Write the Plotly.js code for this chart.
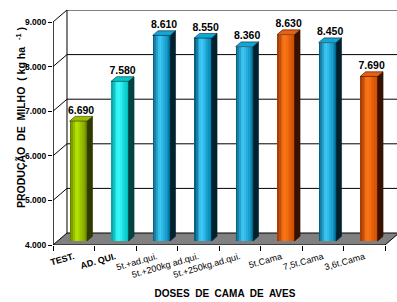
<!DOCTYPE html>
<html>
<head>
<meta charset="utf-8">
<script src="https://cdn.plot.ly/plotly-3.0.1.min.js"></script>
<style>html,body{margin:0;padding:0;background:#fff;}#chart{width:397px;height:302px;}</style>
</head>
<body>
<div id="chart"></div>
<script>
// ---- data ----
const categories = ['TEST.', 'AD. QUI.', '5t.+ad.qui.', '5t.+200kg ad.qui.', '5t.+250kg.ad.qui.', '5t.Cama', '7,5t.Cama', '3,6t.Cama'];
const producao = [6690, 7580, 8610, 8550, 8360, 8630, 8450, 7690];
const yTicks = [4000, 5000, 6000, 7000, 8000, 9000];
const xTitle = 'DOSES  DE  CAMA  DE  AVES';
const yTitle = 'PRODUÇÃO  DE  MILHO  ( kg ha <sup>  -1</sup> )';

// ---- style ----
const boldLabels = [true, true, false, false, false, false, false, false];
const barFamily = ['olive', 'cyan', 'blue', 'blue', 'blue', 'orange', 'blue', 'orange'];
const palettes = {
  olive:  {edge: '#587000', hl: '#bcec00', right: '#6f8a00', top: '#98bc00', side: '#2e3a00', line: '#2a3300'},
  cyan:   {edge: '#009a9a', hl: '#3affff', right: '#00bcbc', top: '#00c8c8', side: '#004444', line: '#003333'},
  blue:   {edge: '#004f70', hl: '#40d0ff', right: '#007aa8', top: '#10a8d8', side: '#00222f', line: '#00202c'},
  orange: {edge: '#9a3600', hl: '#ff7818', right: '#cc4a00', top: '#e86010', side: '#381200', line: '#2e0f00'}
};
const DX = 0.337, DY = 269;      // depth vector (data units)
const D0 = 0.33, D1 = 0.72;      // bar depth span (fraction of floor depth)
const HALF = 0.21;               // half bar width
const BASE = yTicks[0];
const NSTRIP = 10;
const FONT = 'Liberation Sans, Arial, sans-serif';

function hex2rgb(h){h=h.replace('#','');return [parseInt(h.substr(0,2),16),parseInt(h.substr(2,2),16),parseInt(h.substr(4,2),16)];}
function mix(a,b,t){const A=hex2rgb(a),B=hex2rgb(b);return 'rgb('+A.map((v,i)=>Math.round(v+(B[i]-v)*t)).join(',')+')';}
function shade(p,t){return t<0.4?mix(p.edge,p.hl,t/0.4):mix(p.hl,p.right,(t-0.4)/0.6);}

const nCat = categories.length;
const traces = [];

// front faces as stacked strips of bars
for (let k = 0; k < NSTRIP; k++) {
  const w = 2*HALF/NSTRIP;
  traces.push({
    type: 'bar', xaxis: 'x', yaxis: 'y',
    x: producao.map((v,i) => i + 0.5 - HALF + D0*DX + (k+0.5)*w),
    y: producao.map(v => v - BASE),
    base: producao.map(() => BASE + D0*DY),
    width: producao.map(() => w*1.04),
    marker: {color: producao.map((v,i) => shade(palettes[barFamily[i]], (k+0.5)/NSTRIP)), line: {width: 0}},
    hoverinfo: 'skip', showlegend: false
  });
}

// top and side faces
producao.forEach((v,i) => {
  const p = palettes[barFamily[i]];
  const xl = i + 0.5 - HALF, xr = i + 0.5 + HALF;
  const t0 = v + D0*DY, t1 = v + D1*DY;
  traces.push({
    type: 'scatter', mode: 'lines', fill: 'toself', fillcolor: p.side,
    x: [xr+D0*DX, xr+D0*DX, xr+D1*DX, xr+D1*DX, xr+D0*DX],
    y: [BASE+D0*DY, t0, t1, BASE+D1*DY, BASE+D0*DY],
    line: {color: p.line, width: 0.6}, hoverinfo: 'skip', showlegend: false
  });
  traces.push({
    type: 'scatter', mode: 'lines', fill: 'toself', fillcolor: p.top,
    x: [xl+D0*DX, xr+D0*DX, xr+D1*DX, xl+D1*DX, xl+D0*DX],
    y: [t0, t0, t1, t1, t0],
    line: {color: p.line, width: 0.6}, hoverinfo: 'skip', showlegend: false
  });
});

// value labels
traces.push({
  type: 'scatter', mode: 'text', cliponaxis: false,
  x: producao.map((v,i) => i + 0.5 + (D0+D1)/2*DX),
  y: producao.map(v => v + D1*DY),
  text: producao.map(v => (v/1000).toFixed(3)),
  textposition: 'top center',
  textfont: {family: FONT, size: 10.5, color: '#000', weight: 'bold'},
  hoverinfo: 'skip', showlegend: false
});

// invisible trace for the tick-mark axis
traces.push({type: 'scatter', mode: 'markers', x: [0], y: [BASE], xaxis: 'x2', yaxis: 'y',
  marker: {opacity: 0}, hoverinfo: 'skip', showlegend: false});

// walls, floor, gridlines
const shapes = [];
shapes.push({type: 'path', xref: 'x', yref: 'y', layer: 'below',
  path: `M 0,${BASE} L ${nCat},${BASE} L ${nCat+DX},${BASE+DY} L ${DX},${BASE+DY} Z`,
  fillcolor: '#808080', line: {color: '#000', width: 1}});
yTicks.forEach(t => {
  if (t > BASE) {
    shapes.push({type: 'line', xref: 'x', yref: 'y', layer: 'below', x0: 0, y0: t, x1: DX, y1: t+DY, line: {color: '#000', width: 1}});
    shapes.push({type: 'line', xref: 'x', yref: 'y', layer: 'below', x0: DX, y0: t+DY, x1: nCat+DX, y1: t+DY, line: {color: '#000', width: 1}});
  }
});
shapes.push({type: 'line', xref: 'x', yref: 'y', layer: 'below', x0: DX, y0: BASE+DY, x1: DX, y1: yTicks[yTicks.length-1]+DY, line: {color: '#000', width: 1}});
shapes.push({type: 'line', xref: 'x', yref: 'y', layer: 'above', x0: 0, y0: BASE, x1: 0, y1: yTicks[yTicks.length-1], line: {color: '#000', width: 1.5}});

const layout = {
  width: 397, height: 302,
  margin: {l: 53, r: 0, t: 10, b: 57},
  paper_bgcolor: '#fff', plot_bgcolor: '#fff',
  separators: ',.',
  barmode: 'overlay', bargap: 0,
  showlegend: false,
  font: {family: FONT, color: '#000'},
  xaxis: {
    type: 'linear', range: [0, nCat + DX - 0.048], fixedrange: true,
    tickvals: categories.map((c,i) => i + 0.5),
    ticktext: categories.map((c,i) => boldLabels[i] ? '<b>' + c + '</b>' : c),
    tickangle: -16, ticks: '', ticklabelstandoff: 4,
    showgrid: false, zeroline: false, showline: false,
    tickfont: {family: FONT, size: 9, color: '#000'},
    title: {text: xTitle, font: {family: FONT, size: 10, weight: 'bold', color: '#000'}, standoff: 11},
    automargin: false
  },
  xaxis2: {
    type: 'linear', overlaying: 'x', anchor: 'y', side: 'bottom', matches: 'x',
    range: [0, nCat + DX - 0.048],
    tickvals: categories.map((c,i) => i).concat([nCat]), showticklabels: false,
    ticks: 'outside', ticklen: 5, tickcolor: '#000', tickwidth: 1,
    showgrid: false, zeroline: false, showline: false
  },
  yaxis: {
    range: [BASE, yTicks[yTicks.length-1] + DY], fixedrange: true,
    tickvals: yTicks, tickformat: ',.0f',
    ticks: 'outside', ticklen: 4, tickcolor: '#000', tickwidth: 1,
    tickfont: {family: FONT, size: 8.5, weight: 'bold', color: '#000'},
    showgrid: false, zeroline: false, showline: false,
    automargin: false
  },
  annotations: [{
    text: yTitle, xref: 'paper', yref: 'paper',
    x: (20 - 53) / 344, y: (245 - 118) / 235, xanchor: 'center', yanchor: 'middle',
    textangle: -90, showarrow: false,
    font: {family: FONT, size: 10.5, weight: 'bold', color: '#000'}
  }],
  shapes: shapes
};

Plotly.newPlot('chart', traces, layout, {displayModeBar: false, staticPlot: true});
</script>
</body>
</html>
